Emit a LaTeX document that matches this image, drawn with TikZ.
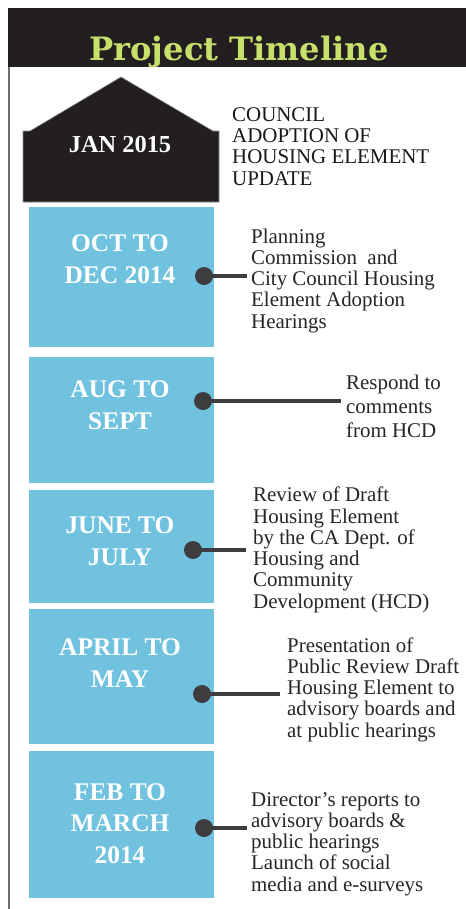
\documentclass[tikz,border=0pt]{standalone}
\usepackage{fontspec}
\setmainfont{Liberation Serif}
\newfontfamily\titlefont{DejaVu Serif}
\usetikzlibrary{positioning}
\definecolor{hdrblack}{rgb}{0.137, 0.122, 0.125}
\definecolor{tlgreen}{rgb}{0.78, 0.88, 0.42}
\definecolor{tlblue}{rgb}{0.44, 0.76, 0.875}
\definecolor{dotgray}{rgb}{0.24, 0.24, 0.25}
\definecolor{railgray}{rgb}{0.43, 0.43, 0.44}
\tikzset{period/.style = {fill=tlblue, draw=none},
         when/.style = {text=white, font=\fontsize{25.5}{31.5}\selectfont\bfseries, align=center, anchor=base, inner sep=0},
         what/.style = {text=black!85, font=\fontsize{21}{21.3}\selectfont, align=left, anchor=base west, inner sep=0},
         dot/.style = {circle, fill=dotgray, minimum size=18bp, inner sep=0},
         link/.style = {dotgray, line width=4bp}}

\begin{document}
\begin{tikzpicture}[x=1bp, y=-1bp]
      \useasboundingbox (0,0) rectangle (466,909);

      \fill [hdrblack] (8, 8) rectangle (466, 67);
      \node [text=tlgreen, font=\titlefont\fontsize{32.3}{32}\selectfont\bfseries, anchor=base, inner sep=0] (title) at (239, 60) {Project Timeline};
      \draw [railgray, line width=2bp] (9, 67) -- (9, 909);

      % top milestone
      \draw [fill=hdrblack, draw=black!45, line width=0.6bp] (23, 131) -- (30, 131) -- (121, 77) -- (213, 131) -- (219, 131) -- (219, 202) -- (23, 202) -- cycle;
      \node [when, font=\fontsize{24.5}{30}\selectfont\bfseries] (jan) at (120, 152) {JAN 2015};
      \node [what, text=black!90] (adopt) at (232, 185) {COUNCIL\\ADOPTION OF\\HOUSING ELEMENT\\UPDATE};

      % periods
      \fill [period] (29, 207) rectangle (214, 347);
      \fill [period] (29, 357) rectangle (214, 483);
      \fill [period] (29, 490) rectangle (214, 603);
      \fill [period] (29, 609) rectangle (214, 744);
      \fill [period] (29, 751) rectangle (214, 898);

      \node [when] (oct) at (120, 283) {OCT TO\\DEC 2014};
      \node [when] (aug) at (120, 429) {AUG TO\\SEPT};
      \node [when] (jun) at (120, 565) {JUNE TO\\JULY};
      \node [when] (apr) at (120, 687) {APRIL TO\\MAY};
      \node [when] (feb) at (120, 863) {FEB TO\\MARCH\\2014};

      \node [what] (hear) at (251, 328) {Planning\\Commission~ and\\City Council Housing\\Element Adoption\\Hearings};
      \node [what, font=\fontsize{21}{24}\selectfont] (resp) at (346, 437) {Respond to\\comments\\from HCD};
      \node [what] (rev) at (253, 608) {Review of Draft\\Housing Element\\by the CA Dept. of\\Housing and\\Community\\Development (HCD)};
      \node [what] (pres) at (287, 737) {Presentation of\\Public Review Draft\\Housing Element to\\advisory boards and\\at public hearings};
      \node [what] (dir) at (251, 891) {Director’s reports to\\advisory boards \&\\public hearings\\Launch of social\\media and e-surveys};

      % dots and leaders
      \node [dot] (d1) at (204, 276) {};
      \node [dot] (d2) at (203, 401) {};
      \node [dot] (d3) at (193, 550) {};
      \node [dot] (d4) at (202, 694) {};
      \node [dot] (d5) at (204, 828) {};
      \coordinate (e1) at (247, 276);
      \coordinate (e2) at (341, 401);
      \coordinate (e3) at (246, 550);
      \coordinate (e4) at (280, 694);
      \coordinate (e5) at (247, 828);
      \draw [link] (d1.center) -- (e1);
      \draw [link] (d2.center) -- (e2);
      \draw [link] (d3.center) -- (e3);
      \draw [link] (d4.center) -- (e4);
      \draw [link] (d5.center) -- (e5);
    \end{tikzpicture}
\end{document}
